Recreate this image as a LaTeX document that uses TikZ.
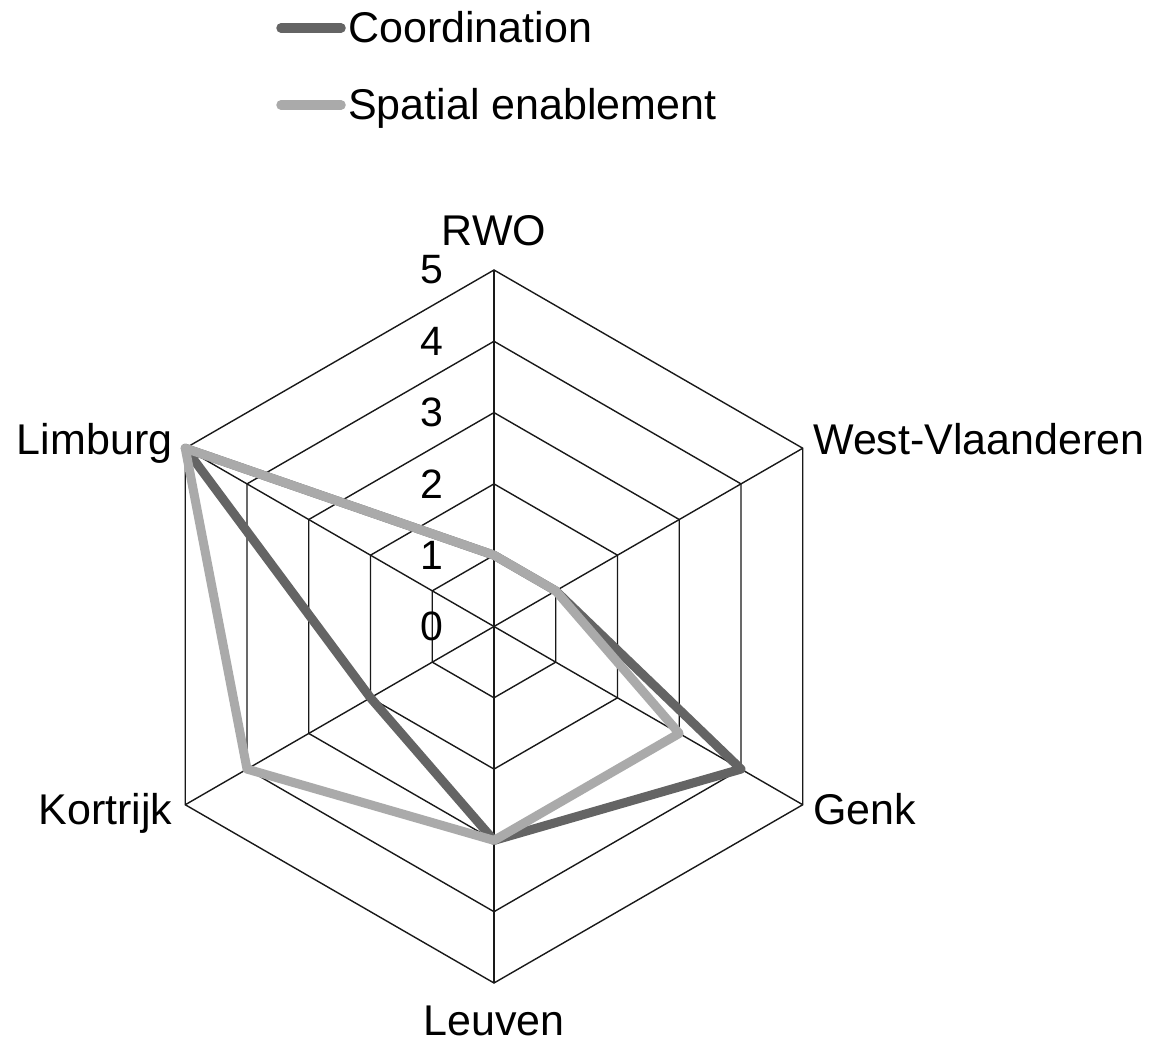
\documentclass[tikz,border=0pt]{standalone}
\usepackage{fontspec}
\setmainfont{Liberation Sans}
\begin{document}
\begin{tikzpicture}[x=1pt,y=1pt,
  gridline/.style={line width=1.4pt,draw=black!90},
  coordline/.style={line width=9pt,draw=darkgray,line join=round,line cap=round},
  spatline/.style={line width=9pt,draw=lightgray,line join=round,line cap=round},
  legline/.style={line width=9.5pt,line cap=round},
  lab/.style={inner sep=0pt,font=\fontsize{43}{50}\selectfont},
  num/.style={inner sep=0pt,anchor=east,font=\fontsize{41}{48}\selectfont}]
\definecolor{darkgray}{HTML}{646464}
\definecolor{lightgray}{HTML}{AAAAAA}
\useasboundingbox (0,0) rectangle (1158,1043);
\fill[white] (0,0) rectangle (1158,1043);
\begin{scope}[shift={(494,416.5)}]
  % grid hexagons
  \foreach \k in {1,...,5} {
    \draw[gridline] (90:71.3*\k) -- (30:71.3*\k) -- (-30:71.3*\k) -- (-90:71.3*\k) -- (-150:71.3*\k) -- (150:71.3*\k) -- cycle;
  }
  \coordinate (O) at (0,0);
  \coordinate (aR) at (90:356.5);
  \coordinate (aW) at (30:356.5);
  \coordinate (aG) at (-30:356.5);
  \coordinate (aL) at (-90:356.5);
  \coordinate (aK) at (-150:356.5);
  \coordinate (aB) at (150:356.5);
  \foreach \a in {aR,aW,aG,aL,aK,aB} \draw[gridline] (O) -- (\a);
  % scale numbers
  \foreach \k in {0,...,5} \node[num] (n\k) at (-51,71.3*\k) {\k};
  % data points
  \coordinate (c1) at (90:71.3);
  \coordinate (c2) at (30:71.3);
  \coordinate (c3) at (-30:285.2);
  \coordinate (c4) at (-90:213.9);
  \coordinate (c5) at (-150:142.6);
  \coordinate (c6) at (150:356.5);
  \coordinate (s1) at (90:71.3);
  \coordinate (s2) at (30:71.3);
  \coordinate (s3) at (-30:213.9);
  \coordinate (s4) at (-90:213.9);
  \coordinate (s5) at (-150:285.2);
  \coordinate (s6) at (150:356.5);
  \draw[coordline] (c1) -- (c2) -- (c3) -- (c4) -- (c5) -- (c6) -- cycle;
  \draw[spatline] (s1) -- (s2) -- (s3) -- (s4) -- (s5) -- (s6) -- cycle;
\end{scope}
% axis labels
\node[lab,anchor=base] (tR) at (494,797) {RWO};
\node[lab,anchor=base west] (tW) at (813,588) {West-Vlaanderen};
\node[lab,anchor=base west] (tG) at (813,218) {Genk};
\node[lab,anchor=base] (tL) at (494,7) {Leuven};
\node[lab,anchor=base east] (tK) at (172.5,218) {Kortrijk};
\node[lab,anchor=base east] (tB) at (172.5,588) {Limburg};
% legend
\coordinate (la1) at (281,1015);
\coordinate (lb1) at (341,1015);
\coordinate (la2) at (281,938);
\coordinate (lb2) at (341,938);
\draw[legline,darkgray] (la1) -- (lb1);
\draw[legline,lightgray] (la2) -- (lb2);
\node[lab,anchor=base west] (t1) at (348,1000) {Coordination};
\node[lab,anchor=base west] (t2) at (348,923) {Spatial enablement};
\end{tikzpicture}
\end{document}
